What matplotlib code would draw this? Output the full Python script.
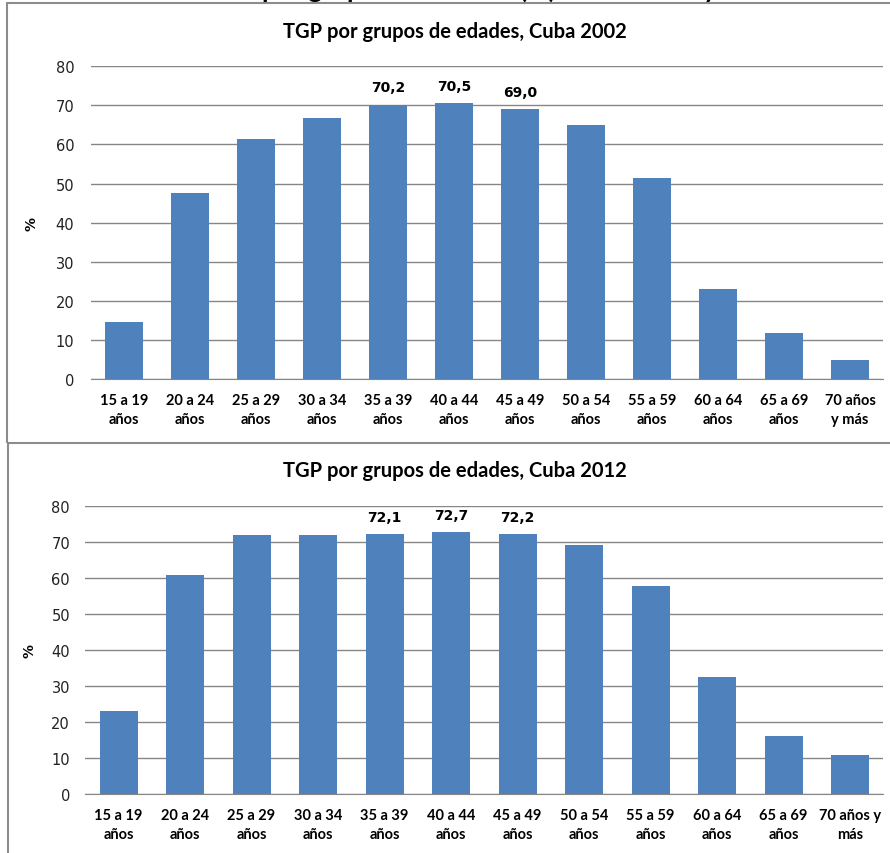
import matplotlib.pyplot as plt
from matplotlib.patches import Rectangle
from matplotlib.lines import Line2D

# Datos
grupos_2002 = ['15 a 19\naños', '20 a 24\naños', '25 a 29\naños', '30 a 34\naños',
               '35 a 39\naños', '40 a 44\naños', '45 a 49\naños', '50 a 54\naños',
               '55 a 59\naños', '60 a 64\naños', '65 a 69\naños', '70 años\ny más']
grupos_2012 = grupos_2002[:-1] + ['70 años y\nmás']
tgp_2002 = [14.5, 47.6, 61.4, 66.9, 70.2, 70.5, 69.0, 65.1, 51.4, 22.9, 11.7, 4.9]
tgp_2012 = [23.1, 60.7, 71.9, 71.9, 72.1, 72.7, 72.2, 69.0, 57.8, 32.5, 16.0, 10.7]
etiquetas_2002 = {4: '70,2', 5: '70,5', 6: '69,0'}
etiquetas_2012 = {4: '72,1', 5: '72,7', 6: '72,2'}

W, H = 890, 854
azul = '#4F81BD'
gris = '#868686'

fig = plt.figure(figsize=(W / 100, H / 100), dpi=100)

# Titulo general (cortado arriba, como en la imagen)
fig.text(262 / W, 1 + 2 / H, 'por grupos de edades (%). Cuba 2002 y 2012',
         ha='left', va='baseline', fontsize=19, fontweight='bold',
         family='Lato', color='black')

# Marcos de los graficos
fig.add_artist(Rectangle((6.5 / W, (H - 444) / H), 2, 440 / H,
                         transform=fig.transFigure, fill=False,
                         edgecolor='#8c8c8c', lw=1.5))
fig.add_artist(Line2D([7.5 / W, 7.5 / W], [0, (H - 446) / H],
                      transform=fig.transFigure, color='#8c8c8c', lw=1.5))


def grafico(rect, grupos, valores, etiquetas, titulo, titulo_y, pad_y, ylab_x):
    ax = fig.add_axes(rect)
    x = range(len(valores))
    ax.bar(x, valores, width=0.57, color=azul, zorder=3)
    ax.set_xlim(-0.5, len(valores) - 0.5)
    ax.set_ylim(0, 80)
    ax.set_yticks(range(0, 81, 10))
    ax.set_xticks(list(x))
    ax.set_xticklabels(grupos, fontsize=10.5, fontweight='bold', family='Lato',
                       linespacing=1.45)
    ax.tick_params(axis='x', length=0, pad=10)
    ax.tick_params(axis='y', length=0, pad=pad_y, labelsize=10.5, labelcolor='#222222')
    for s in ['top', 'right', 'left']:
        ax.spines[s].set_visible(False)
    ax.spines['bottom'].set_color(gris)
    ax.grid(axis='y', color=gris, lw=1, zorder=0)
    for i, txt in etiquetas.items():
        ax.annotate(txt, (i, valores[i]), xytext=(0, 9.5), textcoords='offset points',
                    ha='center', va='baseline', fontsize=10, fontweight='bold')
    ax.set_ylabel('%', fontsize=10, fontweight='bold')
    # posicion del rotulo "%" en coordenadas del eje
    ax.yaxis.set_label_coords((ylab_x - rect[0] * W) / (rect[2] * W), 0.5)
    fig.text(455 / W, 1 - titulo_y / H, titulo, ha='center', va='center',
             fontsize=14.5, fontweight='bold', family='Lato')
    return ax


grafico([91 / W, 1 - 380 / H, 792 / W, 312.7 / H], grupos_2002, tgp_2002,
        etiquetas_2002, 'TGP por grupos de edades, Cuba 2002', 32, 12, 39)
grafico([85.3 / W, 1 - 794.7 / H, 798 / W, 288 / H], grupos_2012, tgp_2012,
        etiquetas_2012, 'TGP por grupos de edades, Cuba 2012', 471, 11, 37)

fig.savefig('out.png', dpi=100)
